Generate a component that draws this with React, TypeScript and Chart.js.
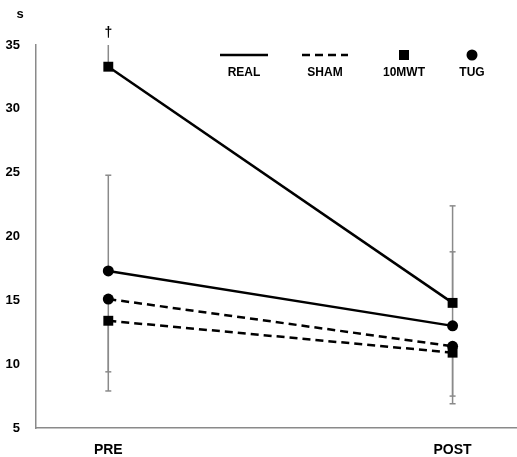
import React, { useEffect, useRef } from "react";
import { Chart, registerables } from "chart.js";

Chart.register(...registerables);

const categories = ["PRE", "POST"];
const yTicks = [5, 10, 15, 20, 25, 30, 35];

const real10MWT = [33.3, 14.8];
const realTUG = [17.3, 13.0];
const shamTUG = [15.1, 11.4];
const sham10MWT = [13.4, 10.9];

// error bar end values (one-sided)
const real10MWTErr = [35.3, 22.4];
const realTUGErr = [24.8, 18.8];
const shamTUGErr = [9.4, 7.5];
const sham10MWTErr = [7.9, 6.9];

const legendLabels = ["REAL", "SHAM", "10MWT", "TUG"];
const FONT = "'Liberation Sans', Arial, sans-serif";

export default function App() {
  const ref = useRef<HTMLCanvasElement>(null);
  useEffect(() => {
    if (!ref.current) return;
    const mk = (vals: number[]) => vals.map((v, i) => ({ x: i, y: v }));
    const series = [
      { vals: real10MWT, err: real10MWTErr, dash: [], style: "rect", r: 7 },
      { vals: realTUG, err: realTUGErr, dash: [], style: "circle", r: 5.5 },
      { vals: shamTUG, err: shamTUGErr, dash: [8, 5], style: "circle", r: 5.5 },
      { vals: sham10MWT, err: sham10MWTErr, dash: [8, 5], style: "rect", r: 7 },
    ];
    const overlay = {
      id: "overlay",
      beforeDatasetsDraw(chart: any) {
        const ctx = chart.ctx;
        const xs = chart.scales.x;
        const ys = chart.scales.y;
        const top = chart.chartArea.top;
        ctx.save();
        ctx.strokeStyle = "#8a8a8a";
        ctx.lineWidth = 1.5;
        series.forEach((s) => {
          s.vals.forEach((v, i) => {
            const px = xs.getPixelForValue(i);
            const p0 = ys.getPixelForValue(v);
            let p1 = ys.getPixelForValue(s.err[i]);
            const clipped = p1 < top;
            if (clipped) p1 = top;
            ctx.beginPath();
            ctx.moveTo(px, p0);
            ctx.lineTo(px, p1);
            ctx.stroke();
            if (!clipped) {
              ctx.beginPath();
              ctx.moveTo(px - 3, p1);
              ctx.lineTo(px + 3, p1);
              ctx.stroke();
            }
          });
        });
        ctx.restore();
      },
      afterDraw(chart: any) {
        const ctx = chart.ctx;
        const xs = chart.scales.x;
        const ys = chart.scales.y;
        ctx.save();
        ctx.fillStyle = "#000";
        ctx.strokeStyle = "#000";
        ctx.font = `bold 13px ${FONT}`;
        ctx.textAlign = "center";
        ctx.textBaseline = "middle";
        ctx.fillText("s", 20, 14);
        ctx.font = `bold 14px ${FONT}`;
        ctx.fillText("†", xs.getPixelForValue(0), ys.getPixelForValue(35) - 12);
        const ly = 55;
        const ty = 73;
        ctx.font = `bold 12px ${FONT}`;
        ctx.lineWidth = 2.5;
        ctx.beginPath();
        ctx.moveTo(220, ly);
        ctx.lineTo(268, ly);
        ctx.stroke();
        ctx.fillText(legendLabels[0], 244, ty);
        ctx.setLineDash([8, 5]);
        ctx.beginPath();
        ctx.moveTo(302, ly);
        ctx.lineTo(348, ly);
        ctx.stroke();
        ctx.setLineDash([]);
        ctx.fillText(legendLabels[1], 325, ty);
        ctx.fillRect(399, ly - 5, 10, 10);
        ctx.fillText(legendLabels[2], 404, ty);
        ctx.beginPath();
        ctx.arc(472, ly, 5.5, 0, Math.PI * 2);
        ctx.fill();
        ctx.fillText(legendLabels[3], 472, ty);
        ctx.restore();
      },
    };
    const chart = new Chart(ref.current, {
      type: "line",
      data: {
        datasets: series.map((s, k) => ({
          label: "s" + k,
          data: mk(s.vals),
          borderColor: "#000",
          backgroundColor: "#000",
          borderWidth: 2.5,
          borderDash: s.dash,
          pointStyle: s.style as any,
          pointRadius: s.r,
          pointBorderWidth: 0,
          pointBackgroundColor: "#000",
          tension: 0,
        })),
      },
      options: {
        animation: false,
        responsive: false,
        maintainAspectRatio: false,
        layout: { padding: { top: 45, left: 0, right: 0, bottom: 0 } },
        plugins: { legend: { display: false }, tooltip: { enabled: false } },
        scales: {
          x: {
            type: "linear",
            min: -0.21,
            max: 1.19,
            grid: { display: false },
            border: { display: true, color: "#8a8a8a", width: 1.5 },
            afterBuildTicks: (s: any) => {
              s.ticks = categories.map((_, i) => ({ value: i }));
            },
            afterFit: (s: any) => {
              s.height = 29;
            },
            ticks: {
              autoSkip: false,
              maxRotation: 0,
              padding: 6,
              color: "#000",
              font: { family: FONT, size: 14, weight: "bold" },
              callback: (v: any) => categories[v] ?? "",
            },
          },
          y: {
            min: 5,
            max: 35,
            grid: { display: false },
            border: { display: true, color: "#8a8a8a", width: 1.5 },
            afterBuildTicks: (s: any) => {
              s.ticks = yTicks.map((v) => ({ value: v }));
            },
            afterFit: (s: any) => {
              s.width = 36;
            },
            ticks: {
              padding: 8,
              color: "#000",
              font: { family: FONT, size: 13, weight: "bold" },
            },
          },
        },
      },
      plugins: [overlay],
    } as any);
    return () => chart.destroy();
  }, []);
  return (
    <div style={{ position: "fixed", left: 0, top: 0, width: 517, height: 457, background: "#fff", overflow: "hidden" }}>
      <canvas ref={ref} width={525} height={457} />
    </div>
  );
}
